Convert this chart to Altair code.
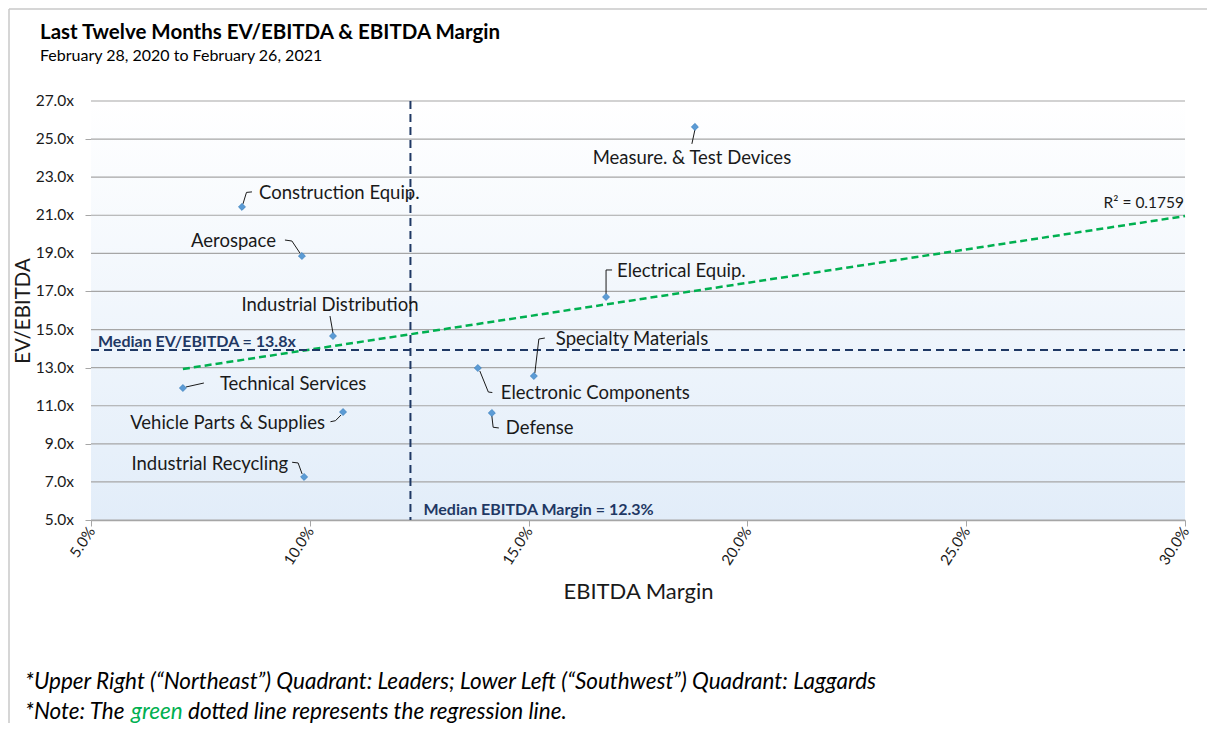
import altair as alt
import pandas as pd

# ---------------- data ----------------
sectors = [
    "Measure. & Test Devices", "Construction Equip.", "Aerospace",
    "Industrial Distribution", "Electrical Equip.", "Specialty Materials",
    "Electronic Components", "Defense", "Technical Services",
    "Vehicle Parts & Supplies", "Industrial Recycling",
]
ebitda_margin = [18.80, 8.45, 9.82, 10.53, 16.77, 15.12, 13.84, 14.16, 7.10, 10.76, 9.87]
ev_ebitda = [25.64, 21.44, 18.86, 14.66, 16.71, 12.56, 12.98, 10.62, 11.93, 10.67, 7.26]

x_ticks = [5.0, 10.0, 15.0, 20.0, 25.0, 30.0]
y_ticks = [5.0, 7.0, 9.0, 11.0, 13.0, 15.0, 17.0, 19.0, 21.0, 23.0, 25.0, 27.0]

reg_margin = [7.1, 30.0]
reg_ev = [12.93, 20.96]

median_margin = 12.3
median_ev = 13.93
median_ev_label = "Median EV/EBITDA = 13.8x"
median_margin_label = "Median EBITDA Margin = 12.3%"
r2_label = "R\u00b2 = 0.1759"

title_text = "Last Twelve Months EV/EBITDA & EBITDA Margin"
subtitle_text = "February 28, 2020 to February 26, 2021"
footnote1 = "*Upper Right (\u201cNortheast\u201d) Quadrant: Leaders; Lower Left (\u201cSouthwest\u201d) Quadrant: Laggards"
footnote2 = ["*Note: The ", "green", "dotted line represents the regression line."]

# ---------------- styling / layout ----------------
W, H = 1094, 419
FONT = "Lato"
NAVY = "#1f3864"
GREEN = "#00b050"
GRID = "#a6a6a6"
TXT = "#1a1a1a"
LABEL_SIZE = 18.5
FOOT_SIZE = 22.5

# label leader geometry in pixels relative to the point:
# (start, elbow, end, text offset, align)
label_style = {
    "Measure. & Test Devices": ((0, 3), (-3, 17), (-3, 17), (-3, 31), "center"),
    "Construction Equip.": ((1, -3), (4.5, -14.5), (10, -15), (17, -14), "left"),
    "Aerospace": ((-2, -3), (-10, -15), (-17, -16), (-26, -15), "right"),
    "Industrial Distribution": ((0, -3), (-3, -20), (-3, -20), (-3, -31), "center"),
    "Electrical Equip.": ((0, -3), (0, -27), (6, -27), (11, -26), "left"),
    "Specialty Materials": ((1, -3), (5, -37), (11, -38), (22, -37), "left"),
    "Electronic Components": ((2, 3), (10.5, 24), (14.5, 24.5), (23, 25), "left"),
    "Defense": ((0, 3), (1.3, 14.3), (7, 15), (14, 15), "left"),
    "Technical Services": ((3, -1), (21, -5), (21, -5), (37, -4), "left"),
    "Vehicle Parts & Supplies": ((-2, 3), (-7.6, 8.7), (-12.6, 9.7), (-18, 11), "right"),
    "Industrial Recycling": ((-2, -3), (-6, -14), (-12, -14.7), (-16, -13), "right"),
}

df = pd.DataFrame({"sector": sectors, "margin": ebitda_margin, "ev": ev_ebitda})
reg_df = pd.DataFrame({"margin": reg_margin, "ev": reg_ev})
grid_df = pd.DataFrame({"ev": y_ticks})
bg_df = pd.DataFrame({"x0": [x_ticks[0]], "x1": [x_ticks[-1]], "y0": [y_ticks[0]], "y1": [y_ticks[-1]]})
one = alt.Data(values=[{"a": 1}])

xs = alt.Scale(domain=[x_ticks[0], x_ticks[-1]], nice=False, zero=False)
ys = alt.Scale(domain=[y_ticks[0], y_ticks[-1]], nice=False, zero=False)

x_axis = alt.Axis(
    values=x_ticks, labelExpr="format(datum.value, '.1f') + '%'", labelAngle=-57,
    labelFontSize=15, labelColor=TXT, labelOverlap=False, grid=False, domainColor=GRID,
    domainWidth=1.5, tickColor=GRID, tickSize=6, labelPadding=2, title="EBITDA Margin",
    titleFontSize=22, titleFontWeight="normal", titleColor=TXT, titlePadding=14,
)
# y tick labels are drawn as a text layer below; the axis keeps ticks, domain and title
y_axis = alt.Axis(
    values=y_ticks, labels=False, grid=False, domainColor=GRID, domainWidth=1,
    tickColor=GRID, tickSize=6, title="EV/EBITDA", titleFontSize=20.5,
    titleFontWeight="normal", titleColor=TXT, titlePadding=51,
)

gradient = {
    "gradient": "linear", "x1": 0, "x2": 0, "y1": 0, "y2": 1,
    "stops": [{"offset": 0, "color": "#ffffff"}, {"offset": 1, "color": "#e2edf9"}],
}

layers = []

bg = alt.Chart(bg_df).mark_rect(color=gradient).encode(
    x=alt.X("x0:Q", scale=xs, axis=x_axis), x2="x1:Q",
    y=alt.Y("y0:Q", scale=ys, axis=y_axis), y2="y1:Q",
)
layers.append(bg)

grid = alt.Chart(grid_df).mark_rule(color=GRID, strokeWidth=1.2).encode(
    y=alt.Y("ev:Q", scale=ys, axis=y_axis), x=alt.value(0), x2=alt.value(W)
)
layers.append(grid)

ylabels = alt.Chart(grid_df).transform_calculate(
    lbl="format(datum.ev, '.1f') + 'x'"
).mark_text(align="right", baseline="middle", dx=-17, fontSize=15.5, color=TXT).encode(
    x=alt.value(0), y=alt.Y("ev:Q", scale=ys, axis=y_axis), text="lbl:N"
)
layers.append(ylabels)

reg = alt.Chart(reg_df).mark_line(color=GREEN, strokeWidth=2.5, strokeDash=[7, 4]).encode(
    x=alt.X("margin:Q", scale=xs, axis=x_axis), y=alt.Y("ev:Q", scale=ys, axis=y_axis)
)
layers.append(reg)

med_v = alt.Chart(one).mark_rule(color=NAVY, strokeWidth=2, strokeDash=[8, 5]).encode(
    x=alt.datum(median_margin, scale=xs), y=alt.value(0), y2=alt.value(H)
)
med_h = alt.Chart(one).mark_rule(color=NAVY, strokeWidth=2, strokeDash=[8, 5]).encode(
    y=alt.datum(median_ev, scale=ys), x=alt.value(0), x2=alt.value(W)
)
layers += [med_v, med_h]

for name, (st, el, en, tx, al) in label_style.items():
    sub = alt.Chart(df).transform_filter(alt.datum.sector == name)
    enc = dict(x=alt.X("margin:Q", scale=xs, axis=x_axis), y=alt.Y("ev:Q", scale=ys, axis=y_axis),
               x2="margin:Q", y2="ev:Q")
    layers.append(sub.mark_rule(color=TXT, strokeWidth=1, xOffset=st[0], yOffset=st[1],
                                x2Offset=el[0], y2Offset=el[1]).encode(**enc))
    if en != el:
        layers.append(sub.mark_rule(color=TXT, strokeWidth=1, xOffset=el[0], yOffset=el[1],
                                    x2Offset=en[0], y2Offset=en[1]).encode(**enc))
    layers.append(sub.mark_text(dx=tx[0], dy=tx[1], align=al, baseline="middle",
                                fontSize=LABEL_SIZE, color=TXT).encode(
        x=alt.X("margin:Q", scale=xs, axis=x_axis), y=alt.Y("ev:Q", scale=ys, axis=y_axis),
        text="sector:N"))

pts = alt.Chart(df).mark_point(shape="diamond", filled=True, size=50, color="#5b9bd5",
                               stroke="#2e75b6", strokeWidth=0.6, opacity=1).encode(
    x=alt.X("margin:Q", scale=xs, axis=x_axis), y=alt.Y("ev:Q", scale=ys, axis=y_axis)
)
layers.append(pts)

layers.append(alt.Chart(one).mark_text(text=median_ev_label, align="left", baseline="alphabetic",
                                      dx=7, dy=-3, fontSize=16, fontWeight="bold", color=NAVY).encode(
    x=alt.datum(x_ticks[0], scale=xs), y=alt.datum(median_ev, scale=ys)))
layers.append(alt.Chart(one).mark_text(text=median_margin_label, align="left", baseline="alphabetic",
                                      dx=13, dy=-5, fontSize=16, fontWeight="bold", color=NAVY).encode(
    x=alt.datum(median_margin, scale=xs), y=alt.datum(y_ticks[0], scale=ys)))
layers.append(alt.Chart(one).mark_text(text=r2_label, align="right", baseline="alphabetic",
                                      dx=-1, dy=-8, fontSize=15.5, color=TXT).encode(
    x=alt.datum(reg_margin[-1], scale=xs), y=alt.datum(reg_ev[-1], scale=ys)))

# titles and footnotes (positions relative to plot origin)
layers.append(alt.Chart(one).mark_text(text=title_text, align="left", baseline="alphabetic",
                                      fontSize=20.5, fontWeight="bold", color="#000000").encode(
    x=alt.value(-51), y=alt.value(-62)))
layers.append(alt.Chart(one).mark_text(text=subtitle_text, align="left", baseline="alphabetic",
                                      fontSize=16, color="#000000").encode(
    x=alt.value(-51), y=alt.value(-40)))
layers.append(alt.Chart(one).mark_text(text=footnote1, align="left", baseline="alphabetic",
                                      fontSize=FOOT_SIZE, fontStyle="italic", color="#000000").encode(
    x=alt.value(-66), y=alt.value(588)))
layers.append(alt.Chart(one).mark_text(text=footnote2[0], align="left", baseline="alphabetic",
                                      fontSize=FOOT_SIZE, fontStyle="italic", color="#000000").encode(
    x=alt.value(-66), y=alt.value(618)))
layers.append(alt.Chart(one).mark_text(text=footnote2[1], align="left", baseline="alphabetic",
                                      fontSize=FOOT_SIZE, fontStyle="italic", color=GREEN).encode(
    x=alt.value(40), y=alt.value(618)))
layers.append(alt.Chart(one).mark_text(text=footnote2[2], align="left", baseline="alphabetic",
                                      fontSize=FOOT_SIZE, fontStyle="italic", color="#000000").encode(
    x=alt.value(97), y=alt.value(618)))

# outer frame (top and left edges)
layers.append(alt.Chart(one).mark_rule(color="#c8c8c8", strokeWidth=1.5).encode(
    x=alt.value(-82), y=alt.value(-92), y2=alt.value(H + 205)))
layers.append(alt.Chart(one).mark_rule(color="#c8c8c8", strokeWidth=1.5).encode(
    x=alt.value(-82), x2=alt.value(W + 22), y=alt.value(-92)))

chart = alt.layer(*layers).properties(
    width=W, height=H,
    padding={"left": 83, "top": 93, "right": 22, "bottom": 203},
    autosize=alt.AutoSizeParams(type="none"),
).configure(font=FONT, background="white").configure_view(
    stroke=None
).configure_axis(labelOverlap=False)

chart.save("out.html", embed_options={"renderer": "svg", "actions": False})
